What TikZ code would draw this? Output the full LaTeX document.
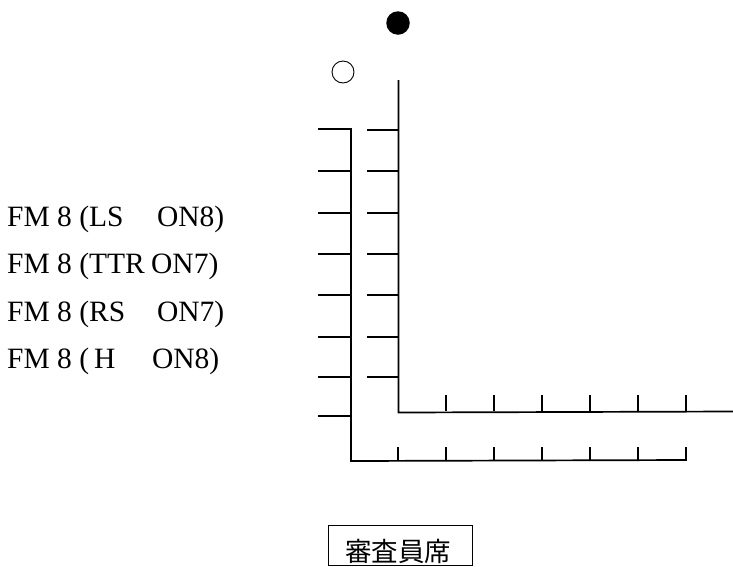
\documentclass[tikz,border=0pt]{standalone}
\usepackage{fontspec}
\setmainfont{Liberation Serif}
\newfontfamily\cjk{Noto Sans CJK JP}
\begin{document}
\begin{tikzpicture}[x=1pt,y=-1pt,
  ln/.style={line width=1.7pt},
  lbl/.style={anchor=base west,inner sep=0pt,font=\fontsize{29.5}{32}\selectfont}]
\useasboundingbox (0,0) rectangle (733,566);
% markers
\node[circle,fill=black,minimum size=23.5pt,inner sep=0pt] (fc) at (398,23) {};
\node[circle,draw,line width=0.9pt,minimum size=22pt,inner sep=0pt] (oc) at (343,72) {};
% right L
\coordinate (rt) at (398.5,80);
\coordinate (rc) at (398.5,412.5);
\coordinate (re) at (733,411.5);
\draw[ln] (rt) -- (rc) -- (re);
\foreach \y in {130,171,213,254,295,337,377}
  \draw[ln] (367,\y) -- (398.5,\y);
\foreach \x in {446,494,542,590,638,686}
  \draw[ln] (\x,395) -- (\x,411);
% left L
\coordinate (lt) at (351,129);
\coordinate (lc) at (351,461);
\coordinate (le) at (686,460);
\draw[ln] (318,129) -- (lt) -- (lc) -- (le);
\foreach \y in {171,213,254,295,337,377,416}
  \draw[ln] (318,\y) -- (351,\y);
\foreach \x in {398,446,494,542,590,638,686}
  \draw[ln] (\x,447) -- (\x,461);
% labels
\node[lbl] (t1) at (7,226) {FM 8 (\makebox[68pt][l]{LS}ON8)};
\node[lbl] (t2) at (7,273) {FM 8 (\makebox[62pt][l]{TTR}ON7)};
\node[lbl] (t3) at (7,321) {FM 8 (\makebox[68pt][l]{RS}ON7)};
\node[lbl] (t4) at (7,368) {FM 8 (\makebox[63pt][l]{\,H}ON8)};
% box
\node[draw,line width=1.2pt,minimum width=144pt,minimum height=40pt,inner sep=0pt,anchor=north west] (box) at (328,525) {};
\node[font=\cjk\fontsize{26.5}{28}\selectfont,inner sep=0pt,anchor=base] (bt) at (398,561) {審査員席};
\end{tikzpicture}
\end{document}
